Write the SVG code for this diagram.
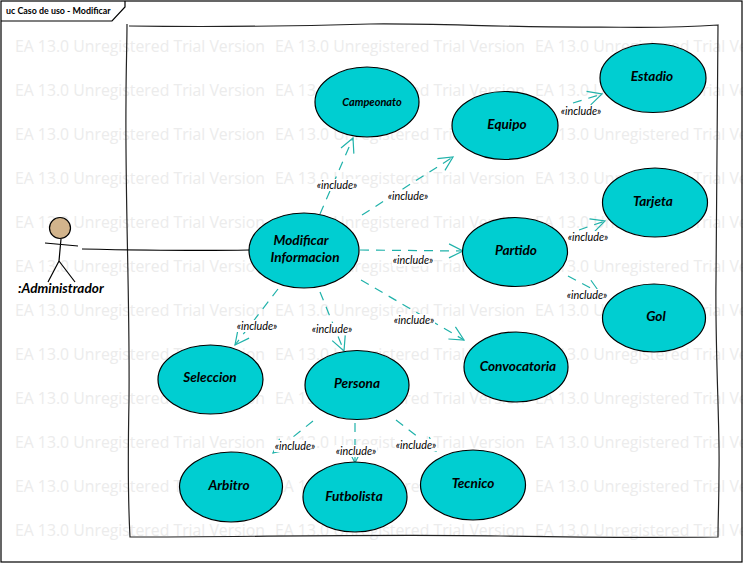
<svg xmlns="http://www.w3.org/2000/svg" width="743" height="563" viewBox="0 0 743 563">
<style>
text{font-family:"Lato","Open Sans","Liberation Sans",sans-serif}
.wm{font-size:15.8px;fill:#ececec;font-family:"Open Sans","Liberation Sans",sans-serif}
.uc{fill:#00ced1;stroke:#000;stroke-width:1.2}
.n{font-size:13.600px;font-weight:700;font-style:italic;fill:#000;text-anchor:middle}
.c{fill:none;stroke:#20b2aa;stroke-width:1.2;stroke-dasharray:9 7;marker-end:url(#arr)}
.lb{fill:#fff}
.l{font-size:10.800px;font-style:italic;fill:#000;text-anchor:middle}
.ink{fill:none;stroke:#000;stroke-width:1.2}
</style>
<defs>
<marker id="arr" markerUnits="userSpaceOnUse" markerWidth="20" markerHeight="20" refX="16" refY="10" orient="auto">
<path d="M2 3 L16 10 L2 17" fill="none" stroke="#20b2aa" stroke-width="1.2"/>
</marker>
</defs>
<rect width="743" height="563" fill="#fff"/>
<g id="watermark">
<text class="wm" x="15" y="52">EA 13.0 Unregistered Trial Version</text><text class="wm" x="275" y="52">EA 13.0 Unregistered Trial Version</text><text class="wm" x="535" y="52">EA 13.0 Unregistered Trial Version</text>
<text class="wm" x="15" y="96">EA 13.0 Unregistered Trial Version</text><text class="wm" x="275" y="96">EA 13.0 Unregistered Trial Version</text><text class="wm" x="535" y="96">EA 13.0 Unregistered Trial Version</text>
<text class="wm" x="15" y="140">EA 13.0 Unregistered Trial Version</text><text class="wm" x="275" y="140">EA 13.0 Unregistered Trial Version</text><text class="wm" x="535" y="140">EA 13.0 Unregistered Trial Version</text>
<text class="wm" x="15" y="184">EA 13.0 Unregistered Trial Version</text><text class="wm" x="275" y="184">EA 13.0 Unregistered Trial Version</text><text class="wm" x="535" y="184">EA 13.0 Unregistered Trial Version</text>
<text class="wm" x="15" y="228">EA 13.0 Unregistered Trial Version</text><text class="wm" x="275" y="228">EA 13.0 Unregistered Trial Version</text><text class="wm" x="535" y="228">EA 13.0 Unregistered Trial Version</text>
<text class="wm" x="15" y="272">EA 13.0 Unregistered Trial Version</text><text class="wm" x="275" y="272">EA 13.0 Unregistered Trial Version</text><text class="wm" x="535" y="272">EA 13.0 Unregistered Trial Version</text>
<text class="wm" x="15" y="316">EA 13.0 Unregistered Trial Version</text><text class="wm" x="275" y="316">EA 13.0 Unregistered Trial Version</text><text class="wm" x="535" y="316">EA 13.0 Unregistered Trial Version</text>
<text class="wm" x="15" y="360">EA 13.0 Unregistered Trial Version</text><text class="wm" x="275" y="360">EA 13.0 Unregistered Trial Version</text><text class="wm" x="535" y="360">EA 13.0 Unregistered Trial Version</text>
<text class="wm" x="15" y="404">EA 13.0 Unregistered Trial Version</text><text class="wm" x="275" y="404">EA 13.0 Unregistered Trial Version</text><text class="wm" x="535" y="404">EA 13.0 Unregistered Trial Version</text>
<text class="wm" x="15" y="448">EA 13.0 Unregistered Trial Version</text><text class="wm" x="275" y="448">EA 13.0 Unregistered Trial Version</text><text class="wm" x="535" y="448">EA 13.0 Unregistered Trial Version</text>
<text class="wm" x="15" y="492">EA 13.0 Unregistered Trial Version</text><text class="wm" x="275" y="492">EA 13.0 Unregistered Trial Version</text><text class="wm" x="535" y="492">EA 13.0 Unregistered Trial Version</text>
<text class="wm" x="15" y="536">EA 13.0 Unregistered Trial Version</text><text class="wm" x="275" y="536">EA 13.0 Unregistered Trial Version</text><text class="wm" x="535" y="536">EA 13.0 Unregistered Trial Version</text>
</g>
<g id="frame">
<rect x="1" y="1" width="741" height="561" fill="none" stroke="#000" stroke-width="1.2"/>
<path class="ink" d="M1 21 H112 L125 7 V1"/>
<text x="6" y="14" font-size="8.900" font-weight="700" fill="#000">uc Caso de uso - Modificar</text>
</g>
<g id="boundary">
<path fill="none" stroke="#222" stroke-width="1.2" d="M129 26 C200 27 300 26 370 24 C430 23 520 28 600 27 C650 28 690 27 718 25 C718 120 717 200 716 280 C715 350 720 430 719 470 C719 500 718 520 718 537 C640 538 560 537 500 536 C380 534 250 537 130 537 C128 500 128 450 129 400 C130 300 125 200 126 100 C126 70 127 45 127 24"/>
</g>
<g id="connectors">
<path class="ink" d="M82 249 C130 250 200 251 249 250"/>
<path class="c" d="M320 214 L353 138"/>
<path class="c" d="M362 215 L453 157"/>
<path class="c" d="M360 250 L463 251"/>
<path class="c" d="M361 280 L464 340"/>
<path class="c" d="M278 289 L235 345"/>
<path class="c" d="M320 292 L344 351"/>
<path class="c" d="M313 421 L273 453"/>
<path class="c" d="M355 423 L355 463"/>
<path class="c" d="M396 420 L436 451"/>
<path class="c" d="M573 103 L602 94"/>
<path class="c" d="M579 230 L605 221"/>
<path class="c" d="M568 276 L600 293"/>
<rect class="lb" x="316" y="179" width="42" height="12"/><text class="l" x="337" y="188.500">«include»</text>
<rect class="lb" x="387" y="190" width="42" height="12"/><text class="l" x="408" y="199.500">«include»</text>
<rect class="lb" x="392" y="254" width="42" height="12"/><text class="l" x="413" y="263.500">«include»</text>
<rect class="lb" x="393" y="314" width="42" height="12"/><text class="l" x="414" y="323.500">«include»</text>
<rect class="lb" x="236" y="320" width="42" height="12"/><text class="l" x="257" y="329.500">«include»</text>
<rect class="lb" x="311" y="323" width="42" height="12"/><text class="l" x="332" y="332.500">«include»</text>
<rect class="lb" x="274" y="440" width="42" height="12"/><text class="l" x="295" y="449.500">«include»</text>
<rect class="lb" x="335" y="445" width="42" height="12"/><text class="l" x="356" y="454.500">«include»</text>
<rect class="lb" x="395" y="439" width="42" height="12"/><text class="l" x="416" y="448.500">«include»</text>
<rect class="lb" x="560" y="105" width="42" height="12"/><text class="l" x="581" y="114.500">«include»</text>
<rect class="lb" x="567" y="231" width="42" height="12"/><text class="l" x="588" y="240.500">«include»</text>
<rect class="lb" x="566" y="289" width="42" height="12"/><text class="l" x="587" y="298.500">«include»</text>
</g>
<g id="actor-administrador">
<circle cx="60" cy="228" r="10.500" fill="#d2b48c" stroke="#000" stroke-width="1.2"/>
<path class="ink" d="M45 243 L78 246 M61 239 L59 261 M59 261 L48 282 M59 261 L75 282"/>
<text x="18" y="293" font-size="13.600" font-weight="700" font-style="italic" fill="#000">:Administrador</text>
</g>
<g id="uc-campeonato"><ellipse class="uc" cx="367" cy="102" rx="52" ry="35"/><text class="n" x="372" y="106" style="font-size:11px">Campeonato</text></g>
<g id="uc-equipo"><ellipse class="uc" cx="505" cy="125.500" rx="53" ry="34"/><text class="n" x="507" y="129">Equipo</text></g>
<g id="uc-estadio"><ellipse class="uc" cx="653" cy="78" rx="53" ry="34.500"/><text class="n" x="652" y="81">Estadio</text></g>
<g id="uc-tarjeta"><ellipse class="uc" cx="655" cy="202.500" rx="52.500" ry="34.500"/><text class="n" x="653" y="206">Tarjeta</text></g>
<g id="uc-partido"><ellipse class="uc" cx="515" cy="252" rx="52.500" ry="34.500"/><text class="n" x="516" y="255">Partido</text></g>
<g id="uc-gol"><ellipse class="uc" cx="654" cy="318" rx="51.500" ry="34"/><text class="n" x="656" y="321">Gol</text></g>
<g id="uc-convocatoria"><ellipse class="uc" cx="516" cy="367" rx="52" ry="35"/><text class="n" x="518" y="371">Convocatoria</text></g>
<g id="uc-modificar"><ellipse class="uc" cx="304" cy="250.500" rx="55" ry="37.500"/><text class="n" x="301" y="245">Modificar</text><text class="n" x="305" y="262">Informacion</text></g>
<g id="uc-seleccion"><ellipse class="uc" cx="210.500" cy="379.500" rx="52.500" ry="34.500"/><text class="n" x="210" y="382">Seleccion</text></g>
<g id="uc-persona"><ellipse class="uc" cx="357" cy="385" rx="52" ry="34.500"/><text class="n" x="357" y="388">Persona</text></g>
<g id="uc-arbitro"><ellipse class="uc" cx="231" cy="487" rx="51.500" ry="35"/><text class="n" x="229" y="490">Arbitro</text></g>
<g id="uc-futbolista"><ellipse class="uc" cx="355" cy="497" rx="52" ry="35"/><text class="n" x="354" y="501">Futbolista</text></g>
<g id="uc-tecnico"><ellipse class="uc" cx="473" cy="485" rx="52.500" ry="35"/><text class="n" x="473" y="488">Tecnico</text></g>
</svg>
